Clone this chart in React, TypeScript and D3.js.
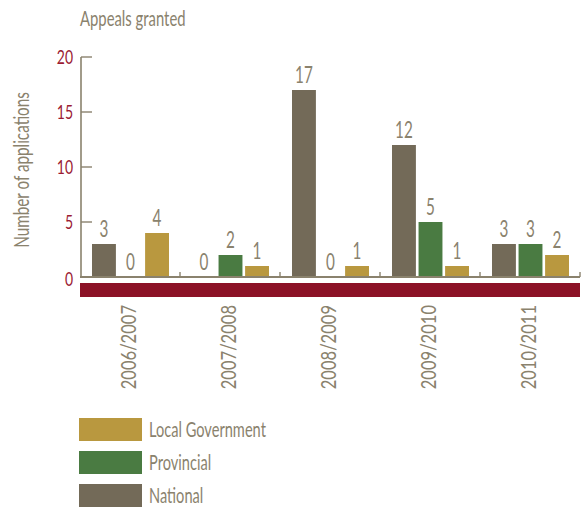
import React from "react";
import * as d3 from "d3";

const categories = ["2006/2007", "2007/2008", "2008/2009", "2009/2010", "2010/2011"];
const seriesNames = ["National", "Provincial", "Local Government"];
const nationalValues = [3, 0, 17, 12, 3];
const provincialValues = [0, 2, 0, 5, 3];
const localValues = [4, 1, 1, 1, 2];
const yTicks = [0, 5, 10, 15, 20];
const legendOrder = ["Local Government", "Provincial", "National"];

const colors: Record<string, string> = {
  National: "#736a58",
  Provincial: "#4a7b42",
  "Local Government": "#b9983f",
};

const FONT = "Lato, 'Open Sans', sans-serif";
const GREY = "#8a826d";
const RED = "#9b1b33";

function CText(props: {
  x: number; y: number; text: string; size: number; fill: string;
  anchor?: string; rotate?: number; sx?: number;
}) {
  const { x, y, text, size, fill, anchor = "start", rotate = 0, sx = 0.72 } = props;
  return (
    <text
      transform={`translate(${x},${y}) rotate(${rotate}) scale(${sx},1)`}
      fontFamily={FONT}
      fontSize={size}
      fill={fill}
      textAnchor={anchor}
      fontWeight={400}
    >
      {text}
    </text>
  );
}

export default function App() {
  const width = 581;
  const height = 512;
  const x0 = d3.scaleBand<string>().domain(categories).range([80, 580]).padding(0);
  const x1 = d3.scaleBand<string>().domain(seriesNames).range([12, 89]).paddingInner(0.1).paddingOuter(0);
  const y = d3.scaleLinear().domain([0, 20]).range([277, 57]);

  const valuesBySeries: Record<string, number[]> = {
    National: nationalValues,
    Provincial: provincialValues,
    "Local Government": localValues,
  };

  return (
    <svg width={width} height={height} style={{ position: "absolute", left: 0, top: 0 }}>
      <rect x={0} y={0} width={width} height={height} fill="#fff" />
      <CText x={80} y={26} text="Appeals granted" size={21.5} fill={GREY} sx={0.69} />
      <CText x={29} y={170} text="Number of applications" size={21.5} fill={GREY} anchor="middle" rotate={-90} sx={0.71} />

      {/* y axis */}
      <line x1={81} x2={81} y1={y(20)} y2={y(0)} stroke={GREY} strokeWidth={1.6} />
      {yTicks.map((t) => (
        <g key={t}>
          {t > 0 && <line x1={81} x2={92} y1={y(t)} y2={y(t)} stroke={GREY} strokeWidth={1.4} />}
          <CText x={73} y={y(t) + 7 + (t === 0 ? 2 : 0)} text={String(t)} size={20} fill={RED} anchor="end" sx={0.7} />
        </g>
      ))}

      {/* bars */}
      {categories.map((c, i) => (
        <g key={c}>
          {seriesNames.map((s) => {
            const v = valuesBySeries[s][i];
            const bx = (x0(c) as number) + (x1(s) as number);
            const bw = x1.bandwidth();
            return (
              <g key={s}>
                <rect x={bx} y={y(v)} width={bw} height={y(0) - y(v)} fill={colors[s]} />
                <CText x={bx + bw / 2} y={y(v) - 7} text={String(v)} size={22.5} fill={GREY} anchor="middle" sx={0.68} />
              </g>
            );
          })}
        </g>
      ))}

      {/* baseline */}
      <line x1={80} x2={580} y1={y(0)} y2={y(0)} stroke={GREY} strokeWidth={2} />
      {categories.map((c) => (
        <line key={c} x1={(x0(c) as number) + 100} x2={(x0(c) as number) + 100} y1={y(0) - 5} y2={y(0)} stroke={GREY} strokeWidth={1.4} />
      ))}
      <rect x={80} y={283} width={500} height={14} fill="#8c1227" />

      {/* x labels */}
      {categories.map((c) => (
        <CText key={c} x={(x0(c) as number) + x0.bandwidth() / 2 + 6} y={305} text={c} size={21.5} fill={GREY} anchor="end" rotate={-90} sx={0.77} />
      ))}

      {/* legend */}
      {legendOrder.map((s, i) => (
        <g key={s}>
          <rect x={79} y={418 + i * 33} width={63} height={23} fill={colors[s]} />
          <CText x={149} y={437 + i * 33} text={s} size={21.5} fill={GREY} sx={0.68} />
        </g>
      ))}
    </svg>
  );
}
